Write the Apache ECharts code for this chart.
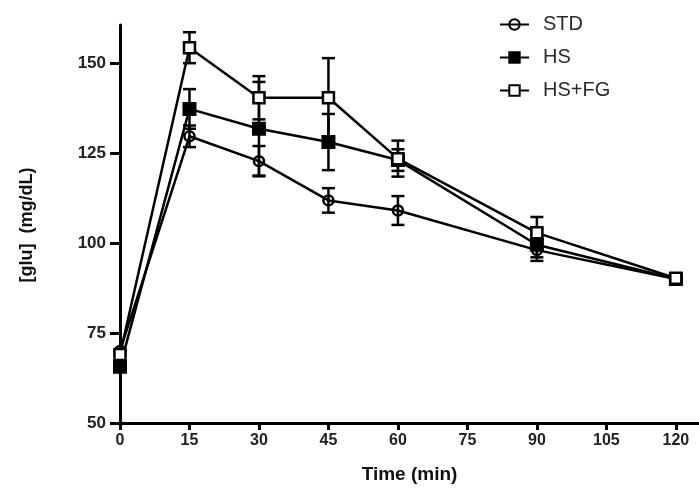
<!DOCTYPE html>
<html>
<head>
<meta charset="utf-8">
<script src="https://cdn.jsdelivr.net/npm/echarts@6/dist/echarts.min.js"></script>
<style>
  html, body { margin: 0; padding: 0; background: #fff; }
  #glucoseChart { width: 699px; height: 500px; }
</style>
</head>
<body>
<div id="glucoseChart"></div>
<script>
// time points (min)
var times = [0, 15, 30, 45, 60, 90, 120];
var xTicks = [0, 15, 30, 45, 60, 75, 90, 105, 120];
var yTicks = [50, 75, 100, 125, 150];

var seriesNames = ['STD', 'HS', 'HS+FG'];
// mean [glu] per group
var stdMean = [70, 129.6, 122.7, 111.8, 109, 98, 90];
var hsMean = [65.6, 137.2, 131.7, 128, 123, 99.5, 90];
var hsfgMean = [69, 154.2, 140.3, 140.3, 123.4, 102.8, 90.2];
// error (SEM) per group
var stdErr = [0, 3, 4.2, 3.4, 4, 2, 0.5];
var hsErr = [0, 5.5, 13, 7.8, 3, 4.5, 0.5];
var hsfgErr = [0, 4.3, 6, 11, 5, 4.4, 0.5];

var chartDom = document.getElementById('glucoseChart');
var myChart = echarts.init(chartDom);

function pts(means) {
  return times.map(function (t, i) { return [t, means[i]]; });
}
function errPts(means, errs) {
  return times.map(function (t, i) { return [t, means[i], errs[i]]; });
}

function renderErr(params, api) {
  var x = api.value(0), y = api.value(1), e = api.value(2);
  var top = api.coord([x, y + e]);
  var bot = api.coord([x, y - e]);
  var hw = 6.5;
  var st = { stroke: '#000', lineWidth: 2.5 };
  return {
    type: 'group',
    children: [
      { type: 'line', shape: { x1: top[0], y1: top[1], x2: bot[0], y2: bot[1] }, style: st },
      { type: 'line', shape: { x1: top[0] - hw, y1: top[1], x2: top[0] + hw, y2: top[1] }, style: st },
      { type: 'line', shape: { x1: bot[0] - hw, y1: bot[1], x2: bot[0] + hw, y2: bot[1] }, style: st }
    ]
  };
}

var lineStyle = { color: '#000', width: 2.5 };
var labelFont = "'Liberation Sans Narrow', 'Liberation Sans', Arial, sans-serif";

var option = {
  animation: false,
  backgroundColor: '#fff',
  grid: { left: 120, right: 0, top: 25, bottom: 77 },
  legend: {
    orient: 'vertical',
    left: 494,
    top: 9,
    itemWidth: 29,
    itemHeight: 13,
    itemGap: 12,
    data: seriesNames,
    textStyle: {
      fontSize: 20, lineHeight: 21, color: '#2a2a33',
      fontFamily: 'Liberation Sans, Arial, sans-serif',
      padding: [0, 0, 0, 9]
    }
  },
  xAxis: {
    type: 'value',
    min: 0,
    max: 125,
    interval: 15,
    name: 'Time (min)',
    nameLocation: 'middle',
    nameGap: 42,
    nameTextStyle: { fontSize: 19, fontWeight: 'bold', color: '#111', fontFamily: labelFont },
    axisLine: { lineStyle: { color: '#000', width: 3 } },
    axisTick: { length: 7, lineStyle: { color: '#000', width: 3 }, customValues: xTicks },
    axisLabel: { fontSize: 16, fontWeight: 'bold', color: '#222', fontFamily: labelFont, margin: 10, customValues: xTicks },
    splitLine: { show: false }
  },
  yAxis: {
    type: 'value',
    min: 50,
    max: 160.5,
    interval: 25,
    axisLine: { show: true, lineStyle: { color: '#000', width: 3 } },
    axisTick: { show: true, inside: false, length: 10, lineStyle: { color: '#000', width: 3 }, customValues: yTicks },
    axisLabel: { fontSize: 17, fontWeight: 'bold', color: '#222', fontFamily: labelFont, margin: 14, customValues: yTicks },
    splitLine: { show: false }
  },
  graphic: [{
    type: 'text',
    x: 0,
    y: 0,
    rotation: Math.PI / 2,
    style: {
      text: '[glu]  (mg/dL)',
      x: -225,
      y: 27,
      align: 'center',
      verticalAlign: 'middle',
      fontSize: 18,
      fontWeight: 'bold',
      fill: '#111',
      fontFamily: 'Liberation Sans, Arial, sans-serif'
    }
  }],
  series: [
    {
      name: 'STD', type: 'line', data: pts(stdMean), z: 3,
      symbol: 'circle', symbolSize: 10,
      itemStyle: { color: 'rgba(255,255,255,0)', borderColor: '#000', borderWidth: 2.5 },
      lineStyle: lineStyle
    },
    {
      name: 'STD-err', type: 'custom', data: errPts(stdMean, stdErr), z: 3,
      renderItem: renderErr
    },
    {
      name: 'HS', type: 'line', data: pts(hsMean), z: 4,
      symbol: 'rect', symbolSize: 12,
      itemStyle: { color: '#000', borderColor: '#000', borderWidth: 2 },
      lineStyle: lineStyle
    },
    {
      name: 'HS-err', type: 'custom', data: errPts(hsMean, hsErr), z: 4,
      renderItem: renderErr
    },
    {
      name: 'HS+FG', type: 'line', data: pts(hsfgMean), z: 5,
      symbol: 'rect', symbolSize: 11,
      itemStyle: { color: '#fff', borderColor: '#000', borderWidth: 2.5 },
      lineStyle: lineStyle
    },
    {
      name: 'HS+FG-err', type: 'custom', data: errPts(hsfgMean, hsfgErr), z: 5,
      renderItem: renderErr
    }
  ]
};

option && myChart.setOption(option);
</script>
</body>
</html>
